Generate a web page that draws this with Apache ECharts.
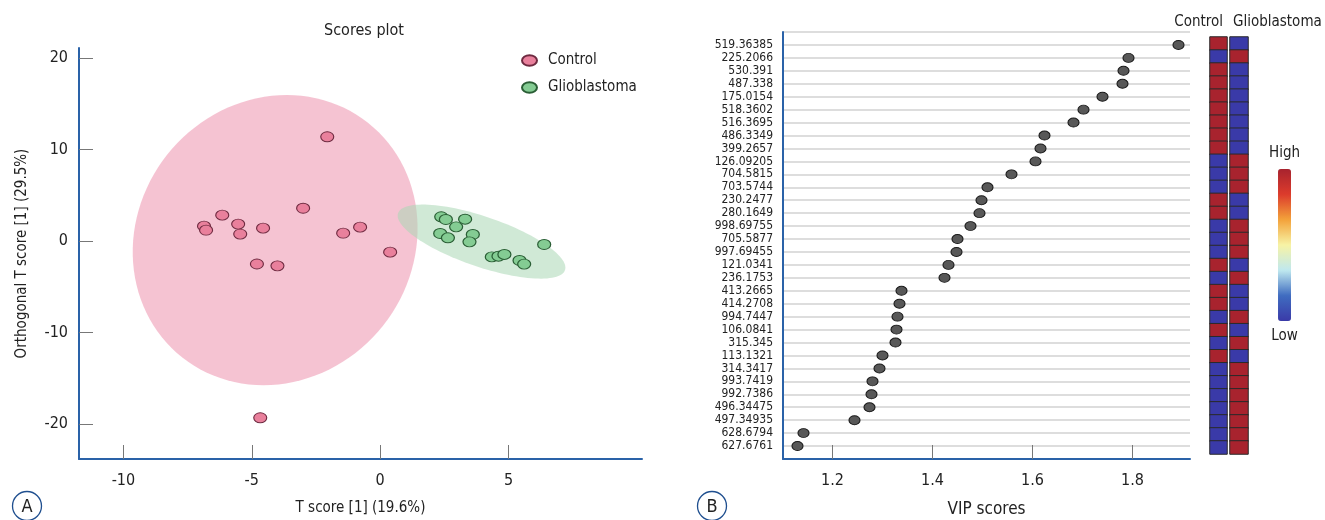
<!DOCTYPE html>
<html>
<head>
<meta charset="utf-8">
<script src="https://cdn.jsdelivr.net/npm/echarts@6/dist/echarts.min.js"></script>
<style>
html,body{margin:0;padding:0;background:#fff;}
#chart{width:1325px;height:520px;}
</style>
</head>
<body>
<div id="chart"></div>
<script>
// ---------- Panel A: OPLS-DA scores ----------
const controlScores = [
  [-2.06, 11.4], [-6.15, 2.84], [-6.86, 1.64], [-6.78, 1.2], [-5.53, 1.86],
  [-5.45, 0.77], [-4.56, 1.42], [-3.0, 3.6], [-0.78, 1.53], [-1.44, 0.87],
  [0.39, -1.2], [-4.8, -2.5], [-4.0, -2.7], [-4.67, -19.3]
];
const glioScores = [
  [2.38, 2.66], [2.56, 2.37], [3.31, 2.40], [2.96, 1.56], [2.34, 0.84],
  [2.64, 0.36], [3.61, 0.73], [3.48, -0.08], [6.39, -0.36], [4.35, -1.72],
  [4.61, -1.64], [4.84, -1.45], [5.43, -2.11], [5.61, -2.51]
];
// ellipse: centre x, centre y, first semi-axis (dx, dy), second semi-axis (dx, dy)
const controlEllipse = [-4.09, 0.11, 5.53, 0, 0.45, 15.85];
const glioEllipse = [3.95, -0.05, 3.25, -3.11, 0.32, 2.59];
const scoreXTicks = [-10, -5, 0, 5];
const scoreYTicks = [-20, -10, 0, 10, 20];

// ---------- Panel B: VIP scores ----------
const vipFeatures = [
  '519.36385', '225.2066', '530.391', '487.338', '175.0154', '518.3602', '516.3695', '486.3349',
  '399.2657', '126.09205', '704.5815', '703.5744', '230.2477', '280.1649', '998.69755', '705.5877',
  '997.69455', '121.0341', '236.1753', '413.2665', '414.2708', '994.7447', '106.0841', '315.345',
  '113.1321', '314.3417', '993.7419', '992.7386', '496.34475', '497.34935', '628.6794', '627.6761'
];
const vipScores = [
  1.892, 1.792, 1.782, 1.780, 1.740, 1.702, 1.682, 1.624,
  1.616, 1.606, 1.558, 1.510, 1.498, 1.494, 1.476, 1.450,
  1.448, 1.432, 1.424, 1.338, 1.334, 1.330, 1.328, 1.326,
  1.300, 1.294, 1.280, 1.278, 1.274, 1.244, 1.142, 1.130
];
const vipTicks = [1.2, 1.4, 1.6, 1.8];
// relative level (1 = high, 0 = low)
const controlLevel = [1,0,1,1,1,1,1,1,1,0,0,0,1,1,0,0,0,1,0,1,1,0,1,0,1,0,0,0,0,0,0,0];
const glioLevel    = [0,1,0,0,0,0,0,0,0,1,1,1,0,0,1,1,1,0,1,0,0,1,0,1,0,1,1,1,1,1,1,1];
const groupNames = ['Control', 'Glioblastoma'];

const FONT = "'DejaVu Sans Condensed', 'DejaVu Sans', sans-serif";
const TXT = '#222';
const AXIS_BLUE = '#2a62a8';
const ELLIPSE_SYMBOL = 'path://M0,5A7,5,0,1,1,14,5A7,5,0,1,1,0,5Z';

function ellipseRender(fill) {
  return function (params, api) {
    const cx = api.value(0), cy = api.value(1);
    const ux = api.value(2), uy = api.value(3);
    const vx = api.value(4), vy = api.value(5);
    const pts = [];
    const N = 120;
    for (let k = 0; k < N; k++) {
      const t = 2 * Math.PI * k / N;
      pts.push(api.coord([cx + ux * Math.cos(t) + vx * Math.sin(t),
                          cy + uy * Math.cos(t) + vy * Math.sin(t)]));
    }
    return { type: 'polygon', shape: { points: pts }, style: { fill: fill } };
  };
}

const chart = echarts.init(document.getElementById('chart'), null, { renderer: 'canvas' });

const option = {
  animation: false,
  backgroundColor: '#fff',
  textStyle: { fontFamily: FONT, color: TXT },
  title: {
    text: 'Scores plot',
    left: 359, top: 18, textAlign: 'center',
    textStyle: { fontFamily: FONT, fontSize: 16, fontWeight: 'normal', color: TXT }
  },
  legend: {
    orient: 'vertical', left: 521, top: 53, itemGap: 12, padding: 0,
    itemWidth: 15, itemHeight: 11,
    data: [
      { name: 'Control', icon: ELLIPSE_SYMBOL },
      { name: 'Glioblastoma', icon: ELLIPSE_SYMBOL }
    ],
    textStyle: { fontFamily: FONT, fontSize: 15, color: TXT, padding: [0, 0, 0, 6] }
  },
  grid: [
    { left: 79, top: 48, width: 563, height: 411, outerBoundsMode: 'none', containLabel: false },
    { left: 783, top: 32, width: 407, height: 427, outerBoundsMode: 'none', containLabel: false },
    { left: 1210, top: 37, width: 17, height: 417, outerBoundsMode: 'none', containLabel: false },
    { left: 1230, top: 37, width: 18, height: 417, outerBoundsMode: 'none', containLabel: false }
  ],
  xAxis: [
    {
      gridIndex: 0, type: 'value', min: -11.73, max: 10.2,
      name: 'T score [1] (19.6%)', nameLocation: 'middle', nameGap: 42,
      nameTextStyle: { fontFamily: FONT, fontSize: 15, color: TXT },
      axisLine: { onZero: false, lineStyle: { color: AXIS_BLUE, width: 2 } },
      axisTick: { inside: true, length: 14, customValues: scoreXTicks, lineStyle: { color: '#777', width: 1 } },
      axisLabel: { customValues: scoreXTicks, margin: 14, fontSize: 16, color: TXT, fontFamily: FONT },
      splitLine: { show: false }
    },
    {
      gridIndex: 1, type: 'value', min: 1.101, max: 1.915,
      name: 'VIP scores', nameLocation: 'middle', nameGap: 42,
      nameTextStyle: { fontFamily: FONT, fontSize: 17, color: TXT },
      axisLine: { onZero: false, lineStyle: { color: AXIS_BLUE, width: 2 } },
      axisTick: { inside: true, length: 14, customValues: vipTicks, lineStyle: { color: '#777', width: 1 } },
      axisLabel: { customValues: vipTicks, margin: 14, fontSize: 16, color: TXT, fontFamily: FONT },
      splitLine: { show: false }
    },
    {
      gridIndex: 2, type: 'category', data: [groupNames[0]], show: false
    },
    {
      gridIndex: 3, type: 'category', data: [groupNames[1]], show: false
    }
  ],
  yAxis: [
    {
      gridIndex: 0, type: 'value', min: -23.8, max: 21.1,
      name: 'Orthogonal T score [1] (29.5%)', nameLocation: 'middle', nameGap: 49, nameRotate: 90,
      nameTextStyle: { fontFamily: FONT, fontSize: 15, color: TXT },
      axisLine: { onZero: false, lineStyle: { color: AXIS_BLUE, width: 2 } },
      axisTick: { inside: true, length: 14, customValues: scoreYTicks, lineStyle: { color: '#777', width: 1 } },
      axisLabel: { customValues: scoreYTicks, margin: 11, fontSize: 16, color: TXT, fontFamily: FONT },
      splitLine: { show: false }
    },
    {
      gridIndex: 1, type: 'value', min: -1, max: vipFeatures.length, interval: 1, inverse: true,
      axisLine: { onZero: false, lineStyle: { color: AXIS_BLUE, width: 2 } },
      axisTick: { show: false },
      axisLabel: {
        showMinLabel: true, showMaxLabel: true,
        margin: 10, fontSize: 12, color: TXT, fontFamily: FONT,
        formatter: function (v) {
          const i = Math.round(v);
          return (i >= 0 && i < vipFeatures.length) ? vipFeatures[i] : '';
        }
      },
      splitLine: { show: true, lineStyle: { color: '#d2d2d2', width: 1.5 } }
    },
    {
      gridIndex: 2, type: 'category', data: vipFeatures, inverse: true, show: false
    },
    {
      gridIndex: 3, type: 'category', data: vipFeatures, inverse: true, show: false
    }
  ],
  visualMap: {
    type: 'continuous', min: 0, max: 1, seriesIndex: [5, 6],
    calculable: false, orient: 'vertical',
    left: 1254, top: 131, itemWidth: 13, itemHeight: 152,
    text: ['High', 'Low'], textGap: 8,
    textStyle: { fontFamily: FONT, fontSize: 15, color: TXT },
    inRange: { color: ['#3a3aa8', '#3f6cc0', '#bfe8ef', '#f7f3a5', '#f3a23a', '#dc3b2c', '#a8232e'] }
  },
  series: [
    {
      type: 'custom', name: 'controlRegion', xAxisIndex: 0, yAxisIndex: 0,
      dimensions: ['cx', 'cy', 'ux', 'uy', 'vx', 'vy'], encode: { x: 0, y: 1 },
      renderItem: ellipseRender('rgba(244,190,206,0.92)'),
      data: [controlEllipse], silent: true, z: 1
    },
    {
      type: 'custom', name: 'glioRegion', xAxisIndex: 0, yAxisIndex: 0,
      dimensions: ['cx', 'cy', 'ux', 'uy', 'vx', 'vy'], encode: { x: 0, y: 1 },
      renderItem: ellipseRender('rgba(170,215,180,0.55)'),
      data: [glioEllipse], silent: true, z: 2
    },
    {
      type: 'scatter', name: 'Control', xAxisIndex: 0, yAxisIndex: 0,
      symbol: ELLIPSE_SYMBOL, symbolSize: [13, 10], z: 5,
      itemStyle: { color: '#e9809c', borderColor: '#6e2a40', borderWidth: 1, opacity: 1 },
      data: controlScores
    },
    {
      type: 'scatter', name: 'Glioblastoma', xAxisIndex: 0, yAxisIndex: 0,
      symbol: ELLIPSE_SYMBOL, symbolSize: [13, 10], z: 5,
      itemStyle: { color: '#84cc93', borderColor: '#2a5e35', borderWidth: 1.1, opacity: 1 },
      data: glioScores
    },
    {
      type: 'scatter', name: 'VIP', xAxisIndex: 1, yAxisIndex: 1,
      symbol: ELLIPSE_SYMBOL, symbolSize: [11, 9], z: 5,
      itemStyle: { color: '#585858', borderColor: '#1a1a1a', borderWidth: 1, opacity: 1 },
      data: vipScores.map((v, i) => [v, i])
    },
    {
      type: 'heatmap', name: 'ControlLevel', xAxisIndex: 2, yAxisIndex: 2,
      itemStyle: { borderColor: '#2a2a2a', borderWidth: 1 },
      data: controlLevel.map((v, i) => [0, i, v])
    },
    {
      type: 'heatmap', name: 'GlioLevel', xAxisIndex: 3, yAxisIndex: 3,
      itemStyle: { borderColor: '#2a2a2a', borderWidth: 1 },
      data: glioLevel.map((v, i) => [0, i, v])
    }
  ],
  graphic: [
    { type: 'text', x: 1223, y: 22, style: { text: groupNames[0], fontFamily: FONT, fontSize: 15, fill: TXT, align: 'right', verticalAlign: 'middle' } },
    { type: 'text', x: 1233, y: 22, style: { text: groupNames[1], fontFamily: FONT, fontSize: 15, fill: TXT, align: 'left', verticalAlign: 'middle' } },
    { type: 'circle', shape: { cx: 27, cy: 506, r: 14.5 }, style: { fill: 'none', stroke: '#1f4f8f', lineWidth: 1.3 } },
    { type: 'text', x: 27, y: 507, style: { text: 'A', fontFamily: FONT, fontSize: 18, fill: TXT, align: 'center', verticalAlign: 'middle' } },
    { type: 'circle', shape: { cx: 712, cy: 506, r: 14.5 }, style: { fill: 'none', stroke: '#1f4f8f', lineWidth: 1.3 } },
    { type: 'text', x: 712, y: 507, style: { text: 'B', fontFamily: FONT, fontSize: 18, fill: TXT, align: 'center', verticalAlign: 'middle' } }
  ]
};
chart.setOption(option);
</script>
</body>
</html>
